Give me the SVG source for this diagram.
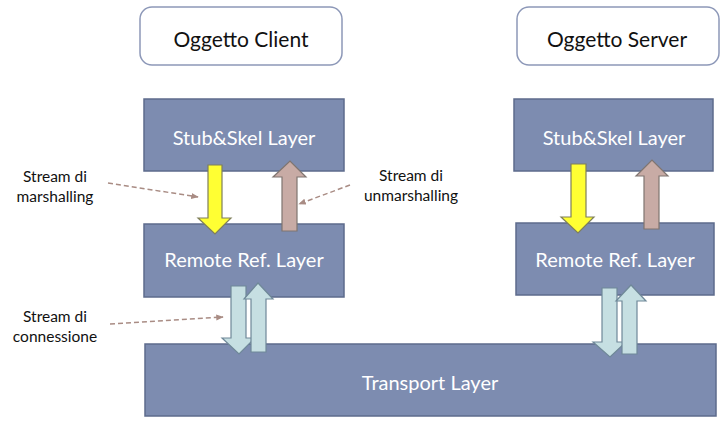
<svg xmlns="http://www.w3.org/2000/svg" width="726" height="421" viewBox="0 0 726 421">
<defs>
<style>
.obj{fill:#ffffff;stroke:#8d98b8;stroke-width:1.5}
.layer{fill:#7d8cb0;stroke:#5d6b8c;stroke-width:1.5}
.otxt{font-family:Lato,"Open Sans",sans-serif;font-size:21px;fill:#111;text-anchor:middle}
.ltxt{font-family:Lato,"Open Sans",sans-serif;font-size:20px;fill:#ffffff;text-anchor:middle}
.note{font-family:Lato,"Open Sans",sans-serif;font-size:15.5px;fill:#111;text-anchor:middle}
.yel{fill:#ffff33;stroke:#7f7f5a;stroke-width:1.2}
.brn{fill:#c8aba5;stroke:#7f7570;stroke-width:1.2}
.lb{fill:#c6dfe2;stroke:#6f8898;stroke-width:1.2}
.dash{fill:none;stroke:#a98c84;stroke-width:1.5;stroke-dasharray:5 3;marker-end:url(#ah)}
</style>
<marker id="ah" viewBox="0 0 10 10" refX="9" refY="5" markerWidth="5" markerHeight="5" orient="auto"><path d="M0,1 L10,5 L0,9 Z" fill="#a98c84"/></marker>
</defs>
<g id="client-obj"><rect class="obj" x="140" y="7" width="202" height="58" rx="12"/><text class="otxt" x="241" y="47">Oggetto Client</text></g>
<g id="server-obj"><rect class="obj" x="517" y="7" width="202" height="58" rx="12"/><text class="otxt" x="617" y="47">Oggetto Server</text></g>
<g id="client-stub"><rect class="layer" x="144" y="99" width="200" height="72"/><text class="ltxt" x="244" y="145">Stub&amp;Skel Layer</text></g>
<g id="client-remote"><rect class="layer" x="144" y="224" width="200" height="73"/><text class="ltxt" x="244" y="267">Remote Ref. Layer</text></g>
<g id="server-stub"><rect class="layer" x="514" y="99" width="199" height="72"/><text class="ltxt" x="614" y="145">Stub&amp;Skel Layer</text></g>
<g id="server-remote"><rect class="layer" x="516" y="223" width="198" height="72"/><text class="ltxt" x="615" y="267">Remote Ref. Layer</text></g>
<g id="transport"><rect class="layer" x="145" y="344" width="571" height="72"/><text class="ltxt" x="430" y="390">Transport Layer</text></g>
<g id="connectors">
<polygon class="yel" points="208,165 222,165 222,218 231,218 215,234 198,218 208,218"/>
<polygon class="brn" points="282,231 297,231 297,177 306,177 290,161 273,177 282,177"/>
<polygon class="yel" points="571,164 586,164 586,217 594,217 578,233 561,217 571,217"/>
<polygon class="brn" points="644,229 659,229 659,176 668,176 652,160 636,176 644,176"/>
<polygon class="lb" points="231,286 246,286 246,338 255,338 239,354 222,338 231,338"/>
<polygon class="lb" points="251,352 266,352 266,299 273,299 258,283 244,299 251,299"/>
<polygon class="lb" points="602,288 617,288 617,342 626,342 610,357 593,342 602,342"/>
<polygon class="lb" points="622,354 637,354 637,301 646,301 631,285 616,301 622,301"/>
<line class="dash" x1="108" y1="183" x2="198" y2="197"/>
<line class="dash" x1="350" y1="185" x2="299" y2="204"/>
<line class="dash" x1="110" y1="324" x2="223" y2="317"/>
</g>
<g id="labels">
<text class="note" x="55" y="182">Stream di</text>
<text class="note" x="55" y="202">marshalling</text>
<text class="note" x="411" y="181">Stream di</text>
<text class="note" x="411" y="201">unmarshalling</text>
<text class="note" x="55" y="322">Stream di</text>
<text class="note" x="55" y="342">connessione</text>
</g>
</svg>
